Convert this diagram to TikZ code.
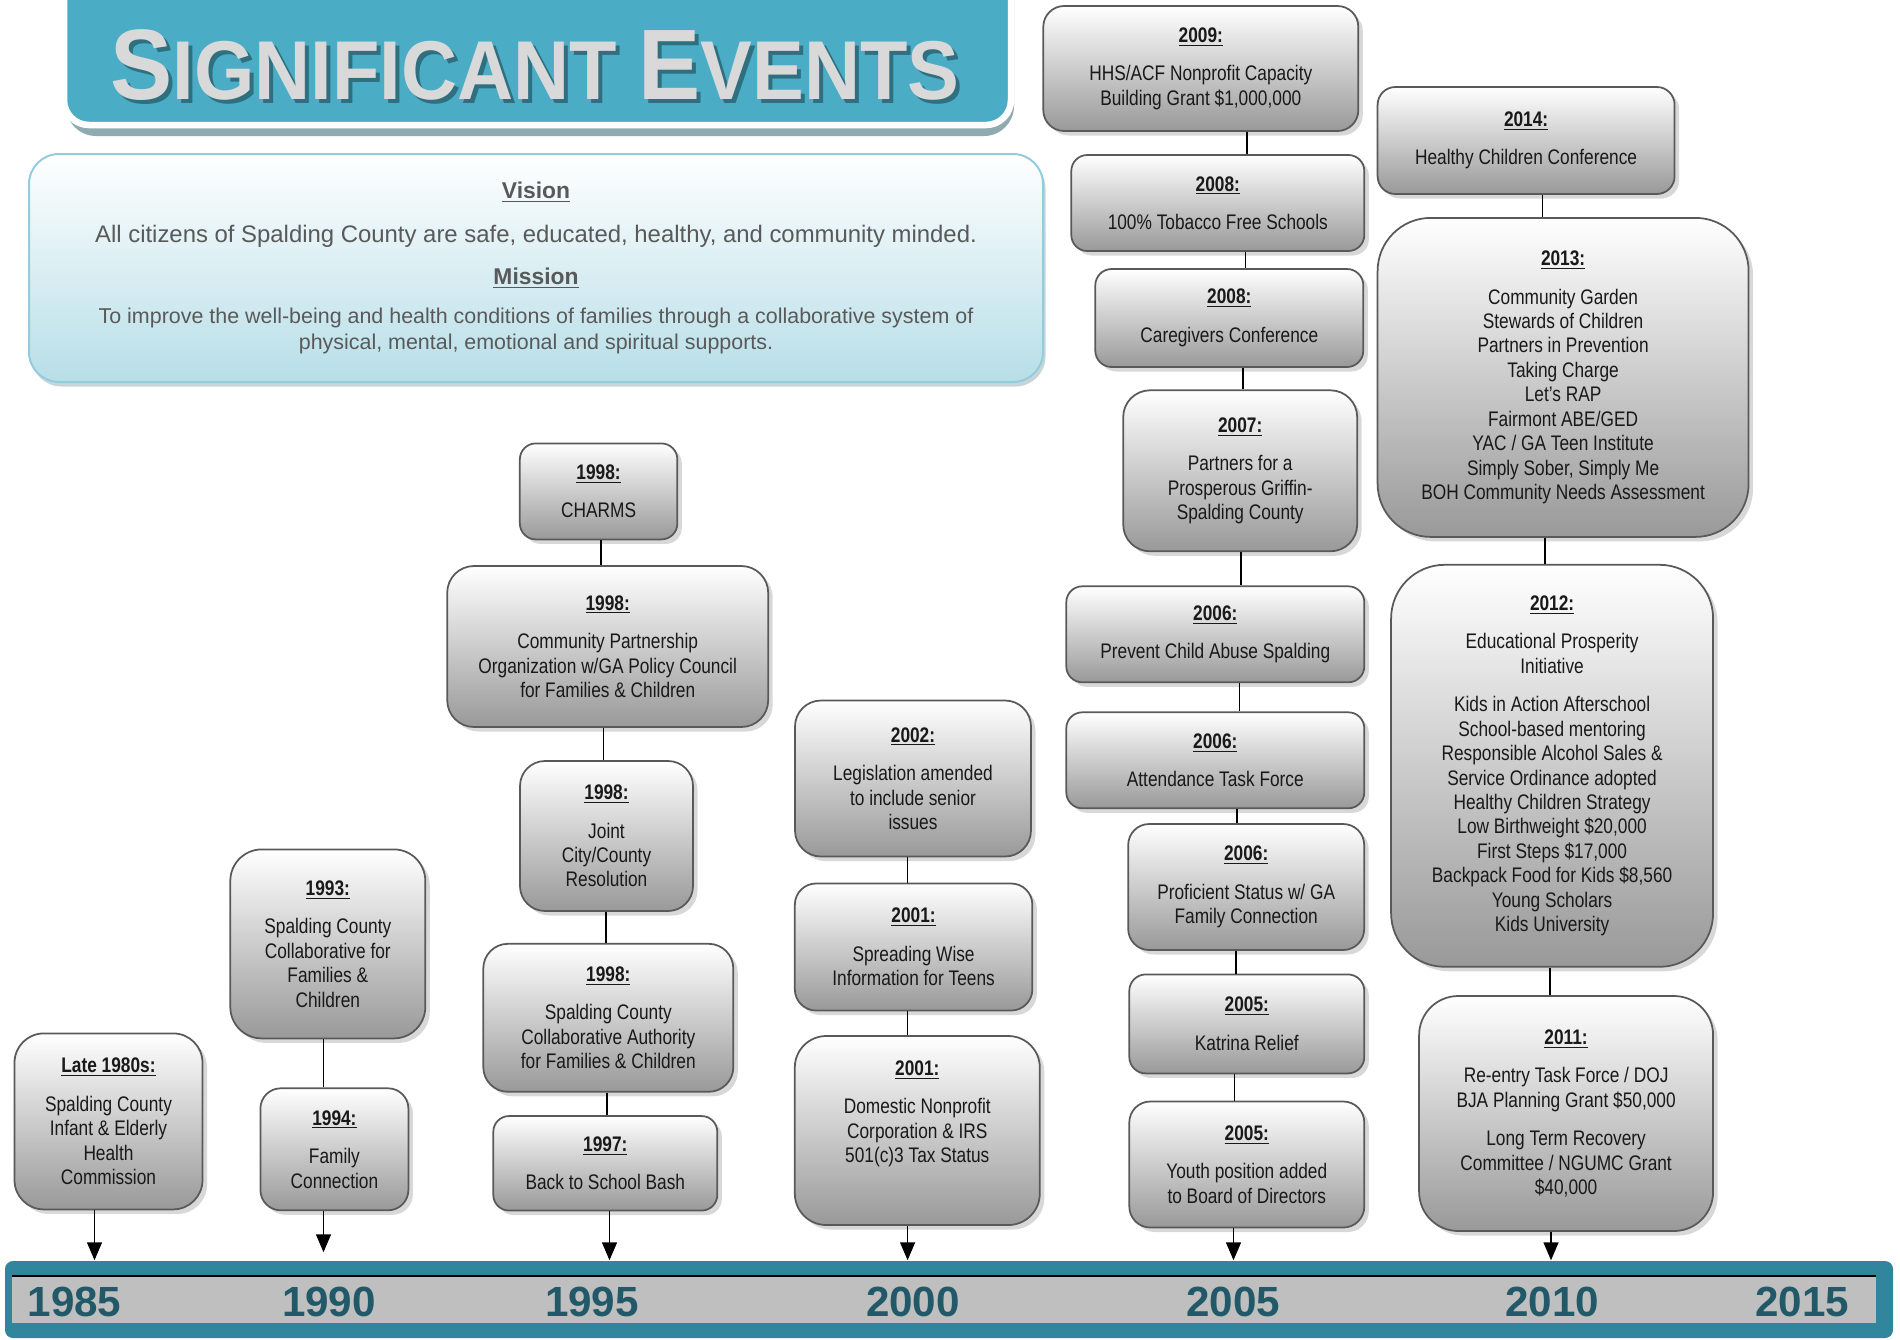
\documentclass[tikz,border=0pt]{standalone}
\usepackage{fontspec}
\setmainfont{Liberation Sans}
\newfontfamily\narrowfont{Liberation Sans}[FakeStretch=0.82]
\newfontfamily\titlefont{Liberation Sans}[FakeStretch=0.93]
\usetikzlibrary{arrows.meta,shadows}

\definecolor{bannerblue}{HTML}{4BACC6}
\definecolor{bannershade}{HTML}{8FAAB1}
\definecolor{titlegray}{HTML}{D9D9D9}
\definecolor{titleshade}{HTML}{2E6F80}
\definecolor{visionfill}{HTML}{B7DEE8}
\definecolor{visionline}{HTML}{93CDDD}
\definecolor{visiontext}{HTML}{595959}
\definecolor{axisteal}{HTML}{31859C}
\definecolor{axisgray}{HTML}{BFBFBF}
\definecolor{yearteal}{HTML}{215968}

\newcommand{\yr}[1]{{\bfseries\underline{#1}}\\[8pt]}
\newcommand{\sigwords}{\titlefont\bfseries
  \fontsize{57}{57}\selectfont S\fontsize{47.5}{57}\selectfont IGNIFICANT
  \fontsize{57}{57}\selectfont E\fontsize{47.5}{57}\selectfont VENTS}
\newcommand{\sigtitle}{\rlap{\kern0.8mm\raisebox{-0.8mm}{\color{titleshade}\sigwords}}{\color{titlegray}\sigwords}}

\tikzset{evsize/.style 2 args={minimum width=#1*0.2mm,minimum height=#2*0.2mm,
  rounded corners={min(#1,#2)*0.0333mm}}}

\begin{document}
\begin{tikzpicture}[x=0.2mm,y=-0.2mm,>={Triangle[width=3mm,length=3.6mm]},line width=0.3mm]
  \tikzstyle{event}=[draw=black!65,line width=0.35mm,top color=white,bottom color=black!40,
    align=center,text=black!90,inner sep=0pt,font=\narrowfont\fontsize{12}{13.9}\selectfont,
    drop shadow={shadow xshift=0.9mm,shadow yshift=-0.9mm,fill=black!30}]
  \tikzstyle{yearlabel}=[text=yearteal,font=\bfseries\fontsize{24}{24}\selectfont]
  \useasboundingbox (0,0) rectangle (1900,1339);

  % title banner
  \fill[bannershade,rounded corners=6mm] (66,-40) rectangle (1014,136);
  \draw[white,line width=1.3mm,fill=bannerblue,rounded corners=5mm] (64,-40) rectangle (1011,125);
  \node[anchor=base] (title) at (535,99) {\sigtitle};

  % vision and mission
  \node[draw=visionline,line width=0.4mm,top color=white,bottom color=visionfill,
    rounded corners=6mm,minimum width=1014*0.2mm,minimum height=228*0.2mm,
    drop shadow={shadow xshift=0.5mm,shadow yshift=-0.9mm,fill=bannershade},
    align=center,text=visiontext,font=\fontsize{13}{14.5}\selectfont] (vision) at (536,268)
    {{\bfseries\underline{Vision}}\\[10.5pt]
     {\fontsize{13.6}{14.5}\selectfont All citizens of Spalding County are safe, educated, healthy, and community minded.}\\[9.4pt]
     {\bfseries\underline{Mission}}\\[7.7pt]
     {\fontsize{12.2}{14.5}\selectfont To improve the well-being and health conditions of families through a collaborative system of}\\
     {\fontsize{12.2}{14.5}\selectfont physical, mental, emotional and spiritual supports.}};

  % timeline
  \node[fill=axisteal,rounded corners=1.6mm,inner sep=0pt,
    minimum width=1888*0.2mm,minimum height=77*0.2mm] (axis) at (949,1299.5) {};
  \fill[axisgray] (12,1276) rectangle (1876,1323);
  \draw[line width=0.5mm] (12,1276) -- (1876,1276);
  \foreach \yrlabel/\px in {1985/74.5,1990/329,1995/592,2000/913,2005/1233,2010/1552,2015/1802}
    \node[yearlabel] (t\yrlabel) at (\px,1302) {\yrlabel};

  % events
  \node[event,evsize={188}{176}] (late) at (108.5,1121.4) {\yr{Late 1980s:}Spalding County\\Infant \& Elderly\\Health\\Commission};
  \node[event,evsize={195}{189}] (y1993) at (327.8,943.9) {\yr{1993:}Spalding County\\Collaborative for\\Families \&\\Children};
  \node[event,evsize={148}{122}] (y1994) at (334.4,1149.3) {\yr{1994:}Family\\Connection};

  \node[event,evsize={157.5}{96}] (charms) at (598.6,491.4) {\yr{1998:}CHARMS};
  \node[event,evsize={321}{161}] (cpo) at (607.7,646.5) {\yr{1998:}Community Partnership\\Organization w/GA Policy Council\\for Families \& Children};
  \node[event,evsize={173}{150}] (joint) at (606.5,836) {\yr{1998:}Joint\\City/County\\Resolution};
  \node[event,evsize={250}{148}] (scca) at (608.3,1017.8) {\yr{1998:}Spalding County\\Collaborative Authority\\for Families \& Children};
  \node[event,evsize={224}{94.5}] (bash) at (605.3,1163.3) {\yr{1997:}Back to School Bash};

  \node[event,evsize={236}{156}] (y2002) at (913,778.5) {\yr{2002:}Legislation amended\\to include senior\\issues};
  \node[event,evsize={237.5}{127}] (wise) at (913.6,947) {\yr{2001:}Spreading Wise\\Information for Teens};
  \node[event,evsize={245}{189},text depth=7.5mm] (dnc) at (917.3,1130.5) {\yr{2001:}Domestic Nonprofit\\Corporation \& IRS\\501(c)3 Tax Status};

  \node[event,evsize={315}{125}] (y2009) at (1200.8,68.5) {\yr{2009:}HHS/ACF Nonprofit Capacity\\Building Grant \$1,000,000};
  \node[event,evsize={293}{96}] (tobacco) at (1217.8,203) {\yr{2008:}100\% Tobacco Free Schools};
  \node[event,evsize={268}{98}] (caregivers) at (1229.3,318) {\yr{2008:}Caregivers Conference};
  \node[event,evsize={234}{161}] (y2007) at (1240.2,470.8) {\yr{2007:}Partners for a\\Prosperous Griffin-\\Spalding County};
  \node[event,evsize={298}{96}] (prevent) at (1215.3,634.3) {\yr{2006:}Prevent Child Abuse Spalding};
  \node[event,evsize={298}{96}] (attendance) at (1215.3,760.3) {\yr{2006:}Attendance Task Force};
  \node[event,evsize={236}{126}] (proficient) at (1246.2,887) {\yr{2006:}Proficient Status w/ GA\\Family Connection};
  \node[event,evsize={235}{99}] (katrina) at (1246.8,1023.9) {\yr{2005:}Katrina Relief};
  \node[event,evsize={235}{126}] (youth) at (1246.8,1164.5) {\yr{2005:}Youth position added\\to Board of Directors};

  \node[event,evsize={297}{107}] (y2014) at (1526.1,140.5) {\yr{2014:}Healthy Children Conference};
  \node[event,evsize={371}{319}] (y2013) at (1563.1,377.4) {\yr{2013:}Community Garden\\Stewards of Children\\Partners in Prevention\\Taking Charge\\Let’s RAP\\Fairmont ABE/GED\\YAC / GA Teen Institute\\Simply Sober, Simply Me\\BOH Community Needs Assessment};
  \node[event,evsize={322}{402}] (y2012) at (1552.1,765.8) {\yr{2012:}Educational Prosperity\\Initiative\\[8pt]Kids in Action Afterschool\\School-based mentoring\\Responsible Alcohol Sales \&\\Service Ordinance adopted\\Healthy Children Strategy\\Low Birthweight \$20,000\\First Steps \$17,000\\Backpack Food for Kids \$8,560\\Young Scholars\\Kids University};
  \node[event,evsize={294}{235}] (y2011) at (1566.1,1113.5) {\yr{2011:}Re-entry Task Force / DOJ\\BJA Planning Grant \$50,000\\[8pt]Long Term Recovery\\Committee / NGUMC Grant\\\$40,000};

  % links
  \path (y1993.south -| 323.5,0) edge (y1994.north -| 323.5,0)
        (charms.south -| 601,0) edge (cpo.north -| 601,0)
        (cpo.south -| 603.4,0) edge (joint.north -| 603.4,0)
        (joint.south -| 605.9,0) edge (scca.north -| 605.9,0)
        (scca.south -| 607,0) edge (bash.north -| 607,0)
        (y2002.south -| 907.6,0) edge (wise.north -| 907.6,0)
        (wise.south -| 907.6,0) edge (dnc.north -| 907.6,0)
        (y2009.south -| 1246.8,0) edge (tobacco.north -| 1246.8,0)
        (tobacco.south -| 1245.6,0) edge (caregivers.north -| 1245.6,0)
        (caregivers.south -| 1243.2,0) edge (y2007.north -| 1243.2,0)
        (y2007.south -| 1240.8,0) edge (prevent.north -| 1240.8,0)
        (prevent.south -| 1239.6,0) edge (attendance.north -| 1239.6,0)
        (attendance.south -| 1237.1,0) edge (proficient.north -| 1237.1,0)
        (proficient.south -| 1235.9,0) edge (katrina.north -| 1235.9,0)
        (katrina.south -| 1234.7,0) edge (youth.north -| 1234.7,0)
        (y2014.south -| 1542.5,0) edge (y2013.north -| 1542.5,0)
        (y2013.south -| 1545,0) edge (y2012.north -| 1545,0)
        (y2012.south -| 1549.8,0) edge (y2011.north -| 1549.8,0);

  % arrows to the timeline
  \path[->] (late.south -| 94.5,0) edge (axis.north -| 94.5,0)
        (y1994.south -| 323.5,0) edge[shorten >=1.6mm] (axis.north -| 323.5,0)
        (bash.south -| 609.5,0) edge (axis.north -| 609.5,0)
        (dnc.south -| 907.6,0) edge (axis.north -| 907.6,0)
        (youth.south -| 1233.5,0) edge (axis.north -| 1233.5,0)
        (y2011.south -| 1551,0) edge (axis.north -| 1551,0);
\end{tikzpicture}
\end{document}
